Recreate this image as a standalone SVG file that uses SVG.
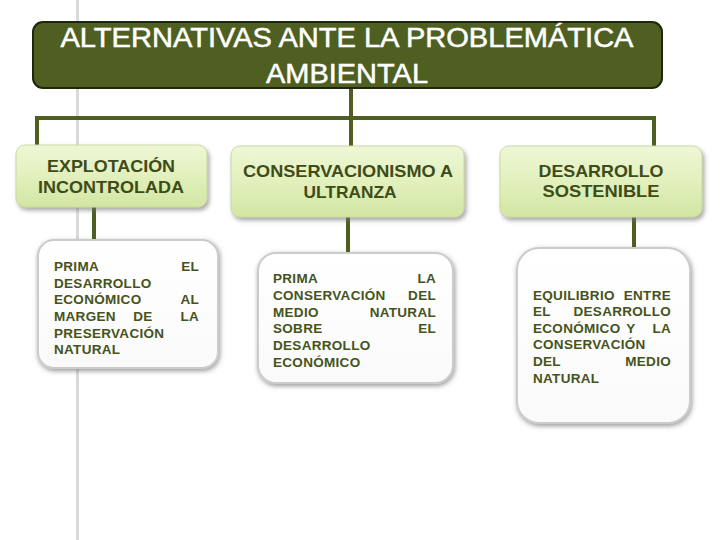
<svg xmlns="http://www.w3.org/2000/svg" width="720" height="540" viewBox="0 0 720 540">
  <defs>
    <linearGradient id="g2" x1="0" y1="0" x2="0" y2="1">
      <stop offset="0" stop-color="#eef7d6"/>
      <stop offset="0.5" stop-color="#e2f0bd"/>
      <stop offset="1" stop-color="#d2e6a2"/>
    </linearGradient>
    <linearGradient id="g3" x1="0" y1="0" x2="0" y2="1">
      <stop offset="0" stop-color="#ffffff"/>
      <stop offset="1" stop-color="#fafafa"/>
    </linearGradient>
    <filter id="sh" x="-10%" y="-10%" width="125%" height="130%">
      <feDropShadow dx="2" dy="3" stdDeviation="2" flood-color="#707070" flood-opacity="0.6"/>
    </filter>
    <filter id="sh3" x="-10%" y="-10%" width="125%" height="125%">
      <feDropShadow dx="1" dy="2" stdDeviation="2.5" flood-color="#606060" flood-opacity="0.65"/>
    </filter>
  </defs>
  <style>
    .hdr { fill: #4e5f21; stroke: #1e260b; stroke-width: 2; }
    .ttl { font-family: "Liberation Sans", Arial, sans-serif; font-size: 27px; fill: #ffffff; stroke: #ffffff; stroke-width: 0.5; text-anchor: middle; }
    .lvl2 { fill: url(#g2); stroke: #cbd9a2; stroke-width: 1; filter: url(#sh); }
    .t2 { font-family: "Liberation Sans", Arial, sans-serif; font-size: 17px; font-weight: bold; fill: #3e4c18; text-anchor: middle; }
    .lvl3 { fill: url(#g3); stroke: #cccccc; stroke-width: 2; filter: url(#sh3); }
    .t3 { font-family: "Liberation Sans", Arial, sans-serif; font-size: 13.5px; font-weight: bold; fill: #45531b; letter-spacing: 0.3px; }
    .e { text-anchor: end; }
    .m { text-anchor: middle; }
    .conn { fill: none; stroke: #4e5f21; stroke-width: 4; }
  </style>
  <rect x="76" y="0" width="3" height="540" fill="#dadada"/>
  <g id="connectors">
    <path class="conn" d="M351,88 V146"/>
    <path class="conn" d="M37,146 V118 H654 V146"/>
    <path class="conn" d="M94,207 V240"/>
    <path class="conn" d="M348,217 V253"/>
    <path class="conn" d="M634,217 V248"/>
  </g>
  <g id="header">
    <rect class="hdr" x="33" y="22" width="629" height="66" rx="10"/>
    <text class="ttl" x="347" y="47" textLength="573" lengthAdjust="spacingAndGlyphs">ALTERNATIVAS ANTE LA PROBLEMÁTICA</text>
    <text class="ttl" x="347" y="83" textLength="162" lengthAdjust="spacingAndGlyphs">AMBIENTAL</text>
  </g>
  <g id="explotacion">
    <rect class="lvl2" x="16" y="145" width="191" height="62" rx="9"/>
    <text class="t2" x="111" y="172" textLength="128" lengthAdjust="spacingAndGlyphs">EXPLOTACIÓN</text>
    <text class="t2" x="111" y="193" textLength="146" lengthAdjust="spacingAndGlyphs">INCONTROLADA</text>
  </g>
  <g id="conservacionismo">
    <rect class="lvl2" x="231" y="146" width="233" height="71" rx="9"/>
    <text class="t2" x="348" y="177" textLength="210" lengthAdjust="spacingAndGlyphs">CONSERVACIONISMO A</text>
    <text class="t2" x="350" y="198" textLength="93" lengthAdjust="spacingAndGlyphs">ULTRANZA</text>
  </g>
  <g id="desarrollo">
    <rect class="lvl2" x="500" y="146" width="202" height="71" rx="9"/>
    <text class="t2" x="601" y="177" textLength="125" lengthAdjust="spacingAndGlyphs">DESARROLLO</text>
    <text class="t2" x="601" y="197" textLength="117" lengthAdjust="spacingAndGlyphs">SOSTENIBLE</text>
  </g>
  <g id="desc-explotacion">
    <rect class="lvl3" x="38" y="240" width="180" height="128" rx="16"/>
    <text class="t3" x="54" y="271">PRIMA</text><text class="t3 e" x="199" y="271">EL</text>
    <text class="t3" x="54" y="288">DESARROLLO</text>
    <text class="t3" x="54" y="304">ECONÓMICO</text><text class="t3 e" x="199" y="304">AL</text>
    <text class="t3" x="54" y="321">MARGEN</text><text class="t3 m" x="143" y="321">DE</text><text class="t3 e" x="199" y="321">LA</text>
    <text class="t3" x="54" y="338">PRESERVACIÓN</text>
    <text class="t3" x="54" y="354">NATURAL</text>
  </g>
  <g id="desc-conservacionismo">
    <rect class="lvl3" x="258" y="253" width="195" height="130" rx="18"/>
    <text class="t3" x="273" y="283">PRIMA</text><text class="t3 e" x="436" y="283">LA</text>
    <text class="t3" x="273" y="300">CONSERVACIÓN</text><text class="t3 e" x="436" y="300">DEL</text>
    <text class="t3" x="273" y="317">MEDIO</text><text class="t3 e" x="436" y="317">NATURAL</text>
    <text class="t3" x="273" y="333">SOBRE</text><text class="t3 e" x="436" y="333">EL</text>
    <text class="t3" x="273" y="350">DESARROLLO</text>
    <text class="t3" x="273" y="367">ECONÓMICO</text>
  </g>
  <g id="desc-desarrollo">
    <rect class="lvl3" x="517" y="248" width="173" height="175" rx="22"/>
    <text class="t3" x="533" y="300">EQUILIBRIO</text><text class="t3 e" x="671" y="300">ENTRE</text>
    <text class="t3" x="533" y="316">EL</text><text class="t3 e" x="671" y="316">DESARROLLO</text>
    <text class="t3" x="533" y="333">ECONÓMICO</text><text class="t3 m" x="631" y="333">Y</text><text class="t3 e" x="671" y="333">LA</text>
    <text class="t3" x="533" y="349">CONSERVACIÓN</text>
    <text class="t3" x="533" y="366">DEL</text><text class="t3 e" x="671" y="366">MEDIO</text>
    <text class="t3" x="533" y="383">NATURAL</text>
  </g>
</svg>
